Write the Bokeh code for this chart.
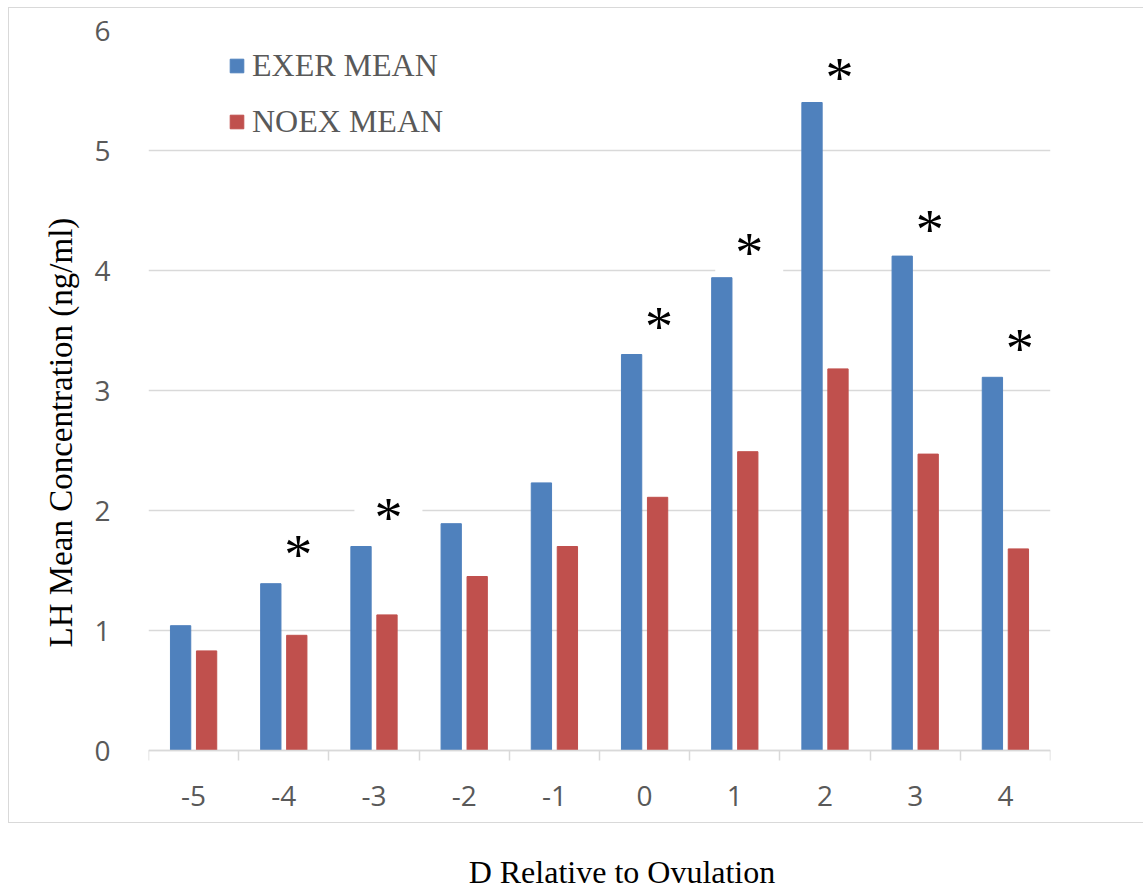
from bokeh.plotting import figure
from bokeh.models import (ColumnDataSource, Range1d, FixedTicker, Legend, LegendItem,
                          Title, Label, InlineStyleSheet)
from bokeh.transform import dodge
from bokeh.core.properties import value
from bokeh.embed import file_html
from bokeh.resources import INLINE

# ---- data ----
days = [-5, -4, -3, -2, -1, 0, 1, 2, 3, 4]
exer_mean = [1.04, 1.39, 1.70, 1.89, 2.23, 3.30, 3.94, 5.40, 4.12, 3.11]
noex_mean = [0.83, 0.96, 1.13, 1.45, 1.70, 2.11, 2.49, 3.18, 2.47, 1.68]
star_days = [-4, -3, 0, 1, 2, 3, 4]
star_y = [1.67, 1.98, 3.57, 4.19, 5.65, 4.38, 3.39]
y_ticks = [0, 1, 2, 3, 4, 5, 6]

BLUE = "#4F81BD"
RED = "#C0504D"
GRID = "#D9D9D9"
TXT = "#595959"
SERIF = "Liberation Serif"
SANS = "Open Sans"

src = ColumnDataSource(dict(day=days, exer=exer_mean, noex=noex_mean))
stars = ColumnDataSource(dict(day=star_days, y=star_y, t=["*"] * len(star_days)))

# frame reaches the bottom of the page; the x axis is pinned at y = 0
p = figure(width=1143, height=890, output_backend="svg", toolbar_location=None,
           x_range=Range1d(-5.5, 4.5), y_range=Range1d(-140 / 120, 6),
           min_border_left=148, min_border_right=93, min_border_top=30,
           min_border_bottom=0, outline_line_color=None,
           background_fill_color="white", border_fill_color="white")

# significance markers first (their white box hides grid lines, bars drawn on top)
p.text(x=dodge("day", 0.16, range=p.x_range), y="y", text="t", source=stars,
       text_font=value(SERIF), text_font_size="56px", text_color="black",
       text_align="center", text_baseline="middle", y_offset=5,
       background_fill_color="white", padding=(20, 0))

r1 = p.vbar(x=dodge("day", -0.144, range=p.x_range), top="exer", width=0.225,
            source=src, fill_color=BLUE, line_color=BLUE)
r2 = p.vbar(x=dodge("day", 0.144, range=p.x_range), top="noex", width=0.225,
            source=src, fill_color=RED, line_color=RED)

# axes
xa = p.xaxis[0]
xa.fixed_location = 0
xa.ticker = FixedTicker(ticks=days, minor_ticks=[d - 0.5 for d in days] + [days[-1] + 0.5])
xa.major_label_overrides = {d: str(d) for d in days}
xa.major_tick_line_color = None
xa.major_tick_out = 0
xa.major_tick_in = 0
xa.minor_tick_out = 10
xa.minor_tick_in = 0
xa.minor_tick_line_color = GRID
xa.minor_tick_line_width = 1.5
xa.axis_line_color = GRID
xa.axis_line_width = 1.5
xa.major_label_text_font = SANS
xa.major_label_text_font_size = "28px"
xa.major_label_text_color = TXT
xa.major_label_standoff = 25

ya = p.yaxis[0]
ya.ticker = FixedTicker(ticks=y_ticks)
ya.major_tick_line_color = None
ya.minor_tick_line_color = None
ya.major_tick_out = 0
ya.major_tick_in = 0
ya.axis_line_color = None
ya.major_label_text_font = SANS
ya.major_label_text_font_size = "28px"
ya.major_label_text_color = TXT
ya.major_label_standoff = 38

p.xgrid.grid_line_color = None
p.ygrid.grid_line_color = GRID
p.ygrid.grid_line_width = 1.5

# axis titles
p.add_layout(Title(text="LH Mean Concentration (ng/ml)", align="left", offset=243,
                   standoff=25, text_font=SERIF, text_font_size="33px",
                   text_font_style="normal", text_color="black"), "left")
p.add_layout(Label(x=-0.251, y=-121 / 120, text="D Relative to Ovulation",
                   text_font=SERIF, text_font_size="32px", text_color="black",
                   text_align="center", text_baseline="alphabetic"))

# outer chart border
p.stylesheets = [InlineStyleSheet(css=(
    ":host{position:relative;}"
    ":host::after{content:'';position:absolute;left:8px;top:7px;right:0;height:816px;"
    "border:1.5px solid #d9d9d9;border-right:none;box-sizing:border-box;"
    "pointer-events:none;z-index:5;}"))]

legend = Legend(items=[LegendItem(label="EXER MEAN", renderers=[r1]),
                       LegendItem(label="NOEX MEAN", renderers=[r2])],
                location=(80, 750), orientation="vertical",
                glyph_width=17, glyph_height=17, label_height=34, spacing=19,
                label_standoff=7, padding=0, margin=0,
                label_text_font=SERIF, label_text_font_size="32px",
                label_text_color=TXT, border_line_color=None,
                background_fill_alpha=0)
p.add_layout(legend, "center")

open("out.html", "w").write(file_html(p, INLINE))
